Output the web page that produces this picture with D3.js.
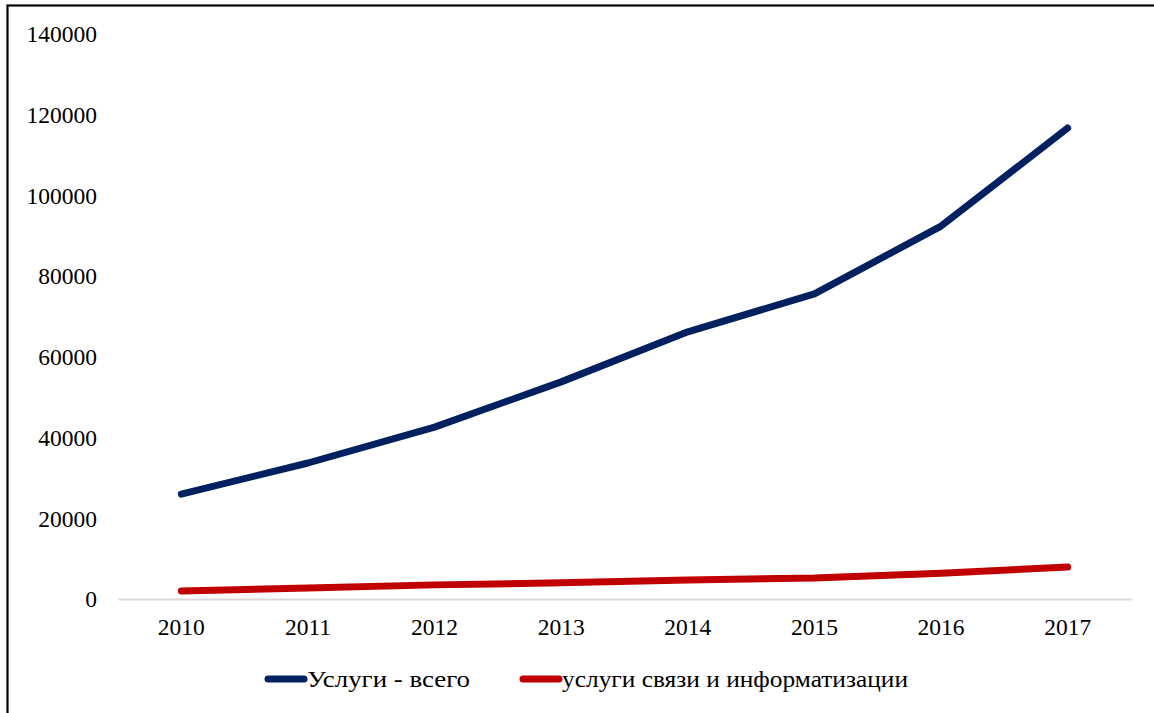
<!DOCTYPE html>
<html><head><meta charset="utf-8">
<script src="https://cdn.jsdelivr.net/npm/d3@7"></script>
<style>body{margin:0;background:#fff}svg{display:block}
svg text{font-family:"Liberation Serif","Times New Roman","DejaVu Serif",serif;}</style>
</head><body><svg id="c" width="1154" height="713"></svg>
<script>
const years = ["2010","2011","2012","2013","2014","2015","2016","2017"];
const totalServices = [26000, 33700, 42600, 53800, 66200, 75600, 92400, 116700];
const commServices = [2000, 2700, 3500, 4000, 4700, 5200, 6400, 7900];
const yTicks = [0,20000,40000,60000,80000,100000,120000,140000];
const seriesNames = ["Услуги - всего", "услуги связи и информатизации"];
const seriesColors = ["#002060", "#C00000"];

(function(){
const svg = d3.select("#c");
const fs = 23.5;
// outer border
svg.append("rect").attr("x",7.5).attr("y",5.5).attr("width",1160).attr("height",720)
  .attr("fill","none").attr("stroke","#000").attr("stroke-width",2.2);

const mLeft = 118, mRight = 1131, mTop = 34, mBottom = 599;
const x = d3.scaleBand().domain(years).range([mLeft,mRight]);
const y = d3.scaleLinear().domain([0,140000]).range([mBottom,mTop]);

// y labels
svg.append("g").selectAll("text").data(yTicks).join("text")
  .attr("x",97).attr("y",d=>y(d)).attr("dy","0.35em").attr("text-anchor","end")
  .attr("font-size",fs).attr("fill","#000").text(d=>d);

// x axis
const xa = svg.append("g").attr("transform",`translate(0,${mBottom})`)
  .call(d3.axisBottom(x).tickSize(0).tickPadding(19));
xa.attr("font-family",null);
xa.select(".domain").attr("stroke","#d9d9d9").attr("stroke-width",2);
xa.selectAll("text").attr("font-size",fs).attr("fill","#000");

const line = d3.line().x((d,i)=>x(years[i])+x.bandwidth()/2).y(d=>y(d));
[totalServices, commServices].forEach((s,k)=>{
  svg.append("path").datum(s).attr("d",line).attr("fill","none")
    .attr("stroke",seriesColors[k]).attr("stroke-width",7)
    .attr("stroke-linecap","round").attr("stroke-linejoin","round");
});

// legend
const lg = [{x1:268,x2:304,tx:307,w:163},{x1:523,x2:559,tx:562,w:346}];
seriesNames.forEach((n,k)=>{
  svg.append("line").attr("x1",lg[k].x1).attr("x2",lg[k].x2).attr("y1",679).attr("y2",679)
    .attr("stroke",seriesColors[k]).attr("stroke-width",7).attr("stroke-linecap","round");
  svg.append("text").attr("x",lg[k].tx).attr("y",679).attr("dy","0.35em")
    .attr("font-size",fs).attr("fill","#000")
    .attr("textLength",lg[k].w).attr("lengthAdjust","spacingAndGlyphs").text(n);
});
})();
</script></body></html>
